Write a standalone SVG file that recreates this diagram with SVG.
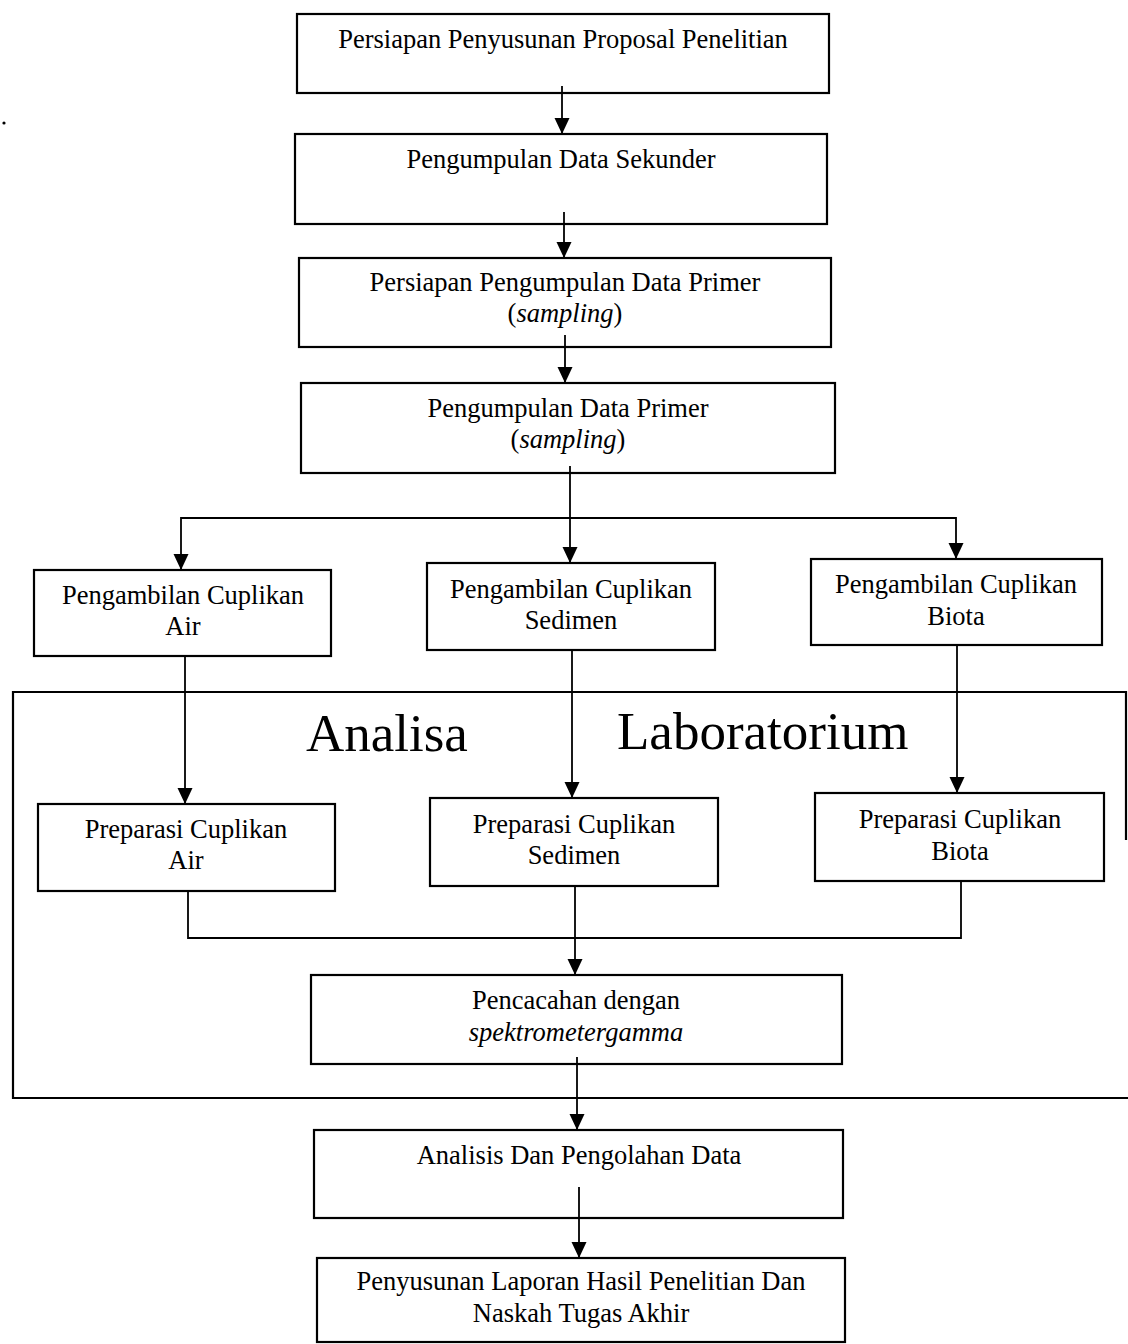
<svg xmlns="http://www.w3.org/2000/svg" width="1128" height="1344" viewBox="0 0 1128 1344">
<defs>
<style>
.box{fill:#fff;stroke:#000;stroke-width:2.2}
.t{font-family:"Liberation Serif","Times New Roman",serif;font-size:26.5px;fill:#000;text-anchor:middle}
.big{font-family:"Liberation Serif","Times New Roman",serif;font-size:53px;fill:#000}
.it{font-style:italic}
.c{fill:none;stroke:#000;stroke-width:1.8}
.frame{fill:none;stroke:#000;stroke-width:2.2}
</style>
<marker id="ah" markerUnits="userSpaceOnUse" markerWidth="16" markerHeight="16" viewBox="0 0 16 16" refX="16" refY="8" orient="auto">
<path d="M0,0.5 L16,8 L0,15.5 z" fill="#000"/>
</marker>
</defs>
<rect width="1128" height="1344" fill="#fff"/>
<circle cx="4" cy="123" r="1.6" fill="#000"/>

<g id="frame">
<path class="frame" d="M1126,840 V692 H13 V1098 H1128"/>
<text class="big" x="306" y="751">Analisa</text>
<text class="big" x="617" y="749">Laboratorium</text>
</g>

<g id="n1"><rect class="box" x="297" y="14" width="532" height="79"/><text class="t" x="563" y="48">Persiapan Penyusunan Proposal Penelitian</text></g>
<g id="n2"><rect class="box" x="295" y="134" width="532" height="90"/><text class="t" x="561" y="168">Pengumpulan Data Sekunder</text></g>
<g id="n3"><rect class="box" x="299" y="258" width="532" height="89"/><text class="t" x="565" y="291">Persiapan Pengumpulan Data Primer</text><text class="t" x="565" y="322">(<tspan class="it">sampling</tspan>)</text></g>
<g id="n4"><rect class="box" x="301" y="383" width="534" height="90"/><text class="t" x="568" y="417">Pengumpulan Data Primer</text><text class="t" x="568" y="448">(<tspan class="it">sampling</tspan>)</text></g>

<g id="n5"><rect class="box" x="34" y="570" width="297" height="86"/><text class="t" x="183" y="604">Pengambilan Cuplikan</text><text class="t" x="183" y="635">Air</text></g>
<g id="n6"><rect class="box" x="427" y="563" width="288" height="87"/><text class="t" x="571" y="598">Pengambilan Cuplikan</text><text class="t" x="571" y="629">Sedimen</text></g>
<g id="n7"><rect class="box" x="811" y="559" width="291" height="86"/><text class="t" x="956" y="593">Pengambilan Cuplikan</text><text class="t" x="956" y="625">Biota</text></g>

<g id="n8"><rect class="box" x="38" y="804" width="297" height="87"/><text class="t" x="186" y="838">Preparasi Cuplikan</text><text class="t" x="186" y="869">Air</text></g>
<g id="n9"><rect class="box" x="430" y="798" width="288" height="88"/><text class="t" x="574" y="833">Preparasi Cuplikan</text><text class="t" x="574" y="864">Sedimen</text></g>
<g id="n10"><rect class="box" x="815" y="793" width="289" height="88"/><text class="t" x="960" y="828">Preparasi Cuplikan</text><text class="t" x="960" y="860">Biota</text></g>

<g id="n11"><rect class="box" x="311" y="975" width="531" height="89"/><text class="t" x="576" y="1009">Pencacahan dengan</text><text class="t it" x="576" y="1041">spektrometergamma</text></g>
<g id="n12"><rect class="box" x="314" y="1130" width="529" height="88"/><text class="t" x="579" y="1164">Analisis Dan Pengolahan Data</text></g>
<g id="n13"><rect class="box" x="317" y="1258" width="528" height="84"/><text class="t" x="581" y="1290">Penyusunan Laporan Hasil Penelitian Dan</text><text class="t" x="581" y="1322">Naskah Tugas Akhir</text></g>

<g id="connectors">
<path class="c" d="M562,86 V134" marker-end="url(#ah)"/>
<path class="c" d="M564,212 V258" marker-end="url(#ah)"/>
<path class="c" d="M565,335 V383" marker-end="url(#ah)"/>
<path class="c" d="M570,466 V563" marker-end="url(#ah)"/>
<path class="c" d="M570,518 H181 V570" marker-end="url(#ah)"/>
<path class="c" d="M570,518 H956 V559" marker-end="url(#ah)"/>
<path class="c" d="M185,656 V804" marker-end="url(#ah)"/>
<path class="c" d="M572,650 V798" marker-end="url(#ah)"/>
<path class="c" d="M957,645 V793" marker-end="url(#ah)"/>
<path class="c" d="M188,891 V938 H961 V881"/>
<path class="c" d="M575,886 V975" marker-end="url(#ah)"/>
<path class="c" d="M577,1057 V1130" marker-end="url(#ah)"/>
<path class="c" d="M579,1187 V1258" marker-end="url(#ah)"/>
</g>
</svg>
